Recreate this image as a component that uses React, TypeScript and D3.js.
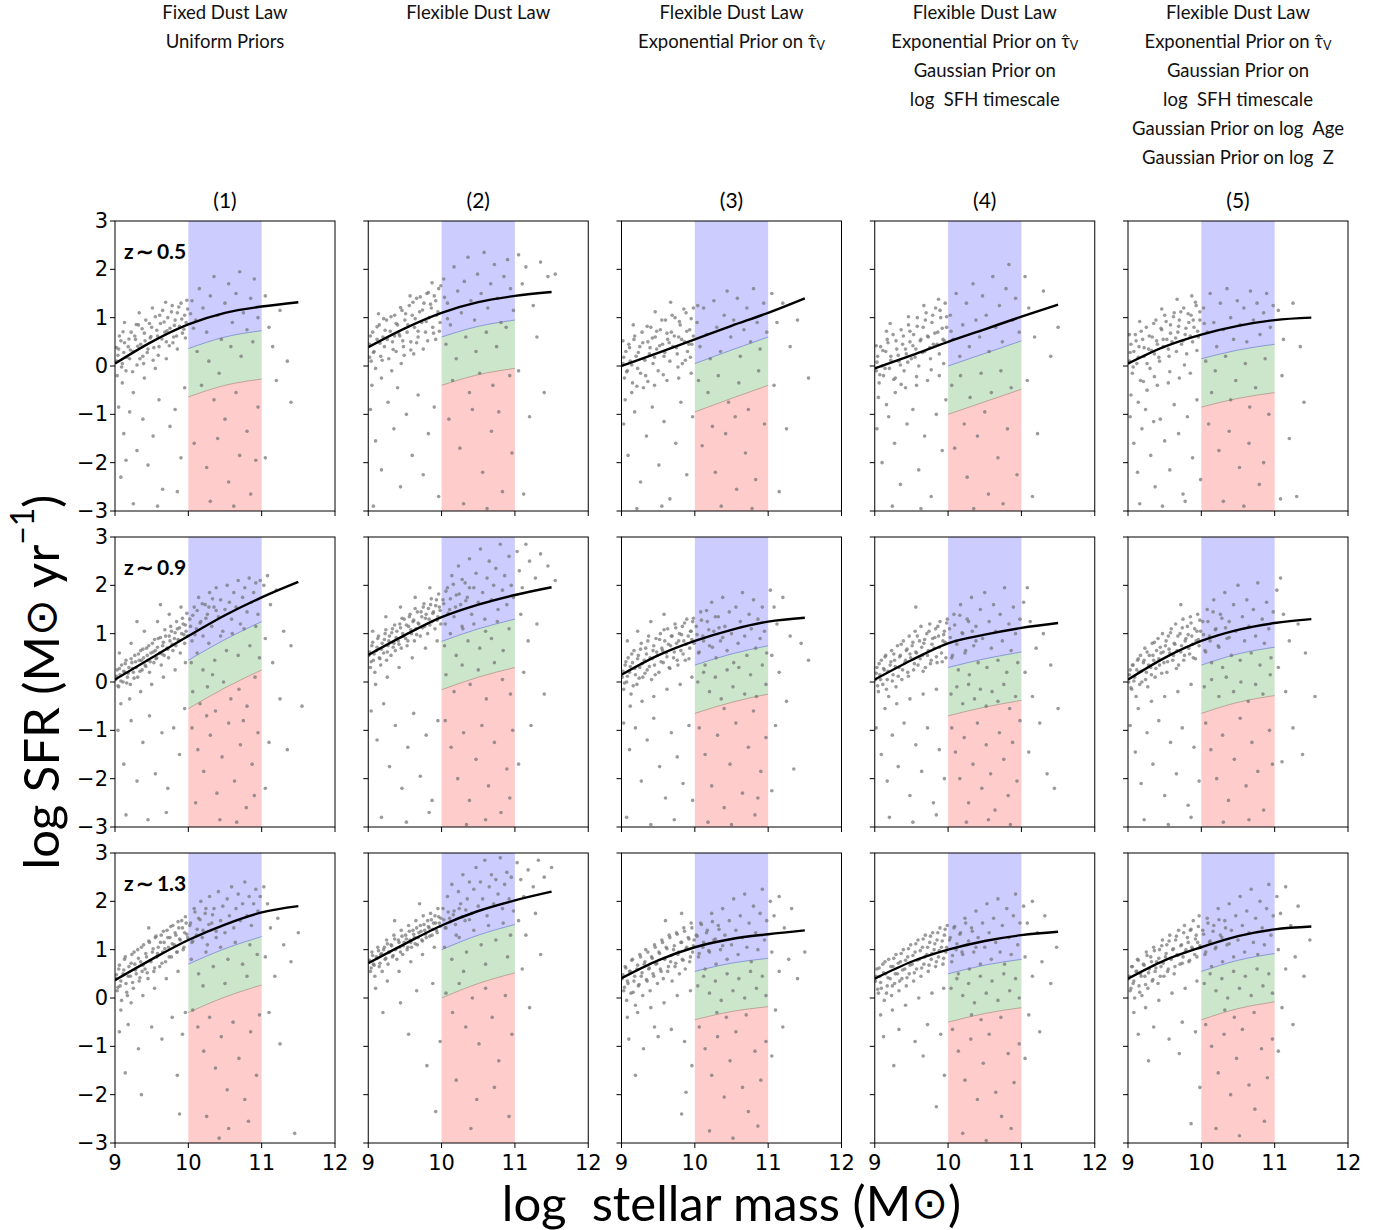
import React from "react";
import * as d3 from "d3";

// ---------------- DATA ----------------
const HEADERS: string[][] = [
  ["Fixed Dust Law", "Uniform Priors"],
  ["Flexible Dust Law"],
  ["Flexible Dust Law", "Exponential Prior on τ̂|V"],
  ["Flexible Dust Law", "Exponential Prior on τ̂|V", "Gaussian Prior on", "log\u00A0\u00A0SFH timescale"],
  ["Flexible Dust Law", "Exponential Prior on τ̂|V", "Gaussian Prior on", "log\u00A0\u00A0SFH timescale", "Gaussian Prior on log\u00A0\u00A0Age", "Gaussian Prior on log\u00A0\u00A0Z"],
];
const PANEL_IDS = ["(1)", "(2)", "(3)", "(4)", "(5)"];
const Z_LABELS = ["z\u2009∼\u20090.5", "z\u2009∼\u20090.9", "z\u2009∼\u20091.3"];
const X_TICKS = [9, 10, 11, 12];
const Y_TICKS = [-3, -2, -1, 0, 1, 2, 3];
const BAND_X = [10, 11];

// best-fit curve sampled at these masses
const CURVE_X = [9, 9.5, 10, 10.5, 11, 11.5];
const CURVE_ROW1 = [
  [0.05, 0.5, 0.86, 1.1, 1.23, 1.32],
  [0.39, 0.78, 1.1, 1.32, 1.45, 1.53],
  [0.0, 0.27, 0.55, 0.83, 1.1, 1.4],
  [-0.05, 0.22, 0.5, 0.76, 1.02, 1.27],
  [0.05, 0.4, 0.65, 0.83, 0.95, 1.0],
];
const CURVE_ROW2 = [
  [0.05, 0.5, 0.95, 1.38, 1.75, 2.07],
  [0.56, 0.97, 1.34, 1.6, 1.8, 1.96],
  [0.15, 0.55, 0.85, 1.08, 1.25, 1.33],
  [0.05, 0.45, 0.8, 0.98, 1.12, 1.22],
  [0.05, 0.5, 0.85, 1.08, 1.22, 1.3],
];
const CURVE_ROW3 = [
  [0.37, 0.8, 1.2, 1.52, 1.77, 1.9],
  [0.72, 1.12, 1.5, 1.8, 2.02, 2.2],
  [0.41, 0.78, 1.05, 1.22, 1.32, 1.4],
  [0.4, 0.75, 1.0, 1.18, 1.3, 1.37],
  [0.4, 0.78, 1.05, 1.28, 1.42, 1.48],
];
// band edges relative to the curve (dex)
const BAND_OFFSETS = [-0.5, -1.5];

// scatter points: flat [mass, sfr, mass, sfr, ...]
const PTS_R1C1 = [
9.02,0.10,9.05,0.35,9.03,-0.20,9.08,0.52,9.10,0.05,9.12,0.28,9.06,0.62,9.15,-0.10,9.18,0.40,9.20,0.15,
9.22,0.70,9.25,0.30,9.28,0.55,9.30,0.02,9.32,0.85,9.35,0.45,9.38,0.20,9.40,0.68,9.42,0.95,9.45,0.35,
9.48,0.58,9.50,0.80,9.52,0.12,9.55,1.02,9.58,0.62,9.60,0.40,9.62,0.88,9.65,1.15,9.68,0.70,9.70,0.50,
9.72,1.00,9.75,0.78,9.78,1.25,9.80,0.60,9.82,0.95,9.85,1.10,9.88,0.82,9.90,1.30,9.92,0.68,9.95,1.05,
9.97,0.90,9.99,1.18,9.10,-0.35,9.25,-0.55,9.40,-0.25,9.55,-0.05,9.70,0.15,9.85,0.35,9.13,0.90,9.33,1.10,
9.05,-0.85,9.12,-1.40,9.20,-0.95,9.30,-1.75,9.38,-1.10,9.45,-2.05,9.52,-1.45,9.60,-0.70,9.65,-2.55,9.75,-1.25,
9.82,-0.90,9.90,-1.90,9.95,-0.45,9.08,-2.30,9.25,-2.85,9.58,-2.90,9.85,-2.60,9.15,-1.95,
10.05,1.35,10.10,0.95,10.15,1.60,10.20,1.20,10.25,0.70,10.30,1.45,10.35,1.85,10.40,1.05,10.45,0.55,10.50,1.30,
10.55,1.70,10.60,0.90,10.65,1.50,10.70,1.95,10.75,1.10,10.80,0.75,10.85,1.40,10.90,1.80,10.95,1.00,10.12,0.30,
10.28,0.10,10.42,-0.15,10.58,0.40,10.72,0.20,10.88,0.50,10.18,-0.40,10.35,-0.70,10.50,-1.10,10.65,-0.55,10.80,-1.35,
10.95,-0.85,10.08,-1.60,10.25,-2.10,10.40,-1.50,10.55,-2.40,10.70,-1.85,10.85,-2.65,10.30,-2.80,10.62,-2.90,10.92,-1.95,
11.05,1.45,11.10,0.80,11.20,-0.30,11.35,0.10,11.25,1.15,11.40,-0.75,11.05,-1.90,11.15,0.40,
];
const CORE_R1C1 = [
9.04,0.22,9.09,-0.02,9.13,0.48,9.16,0.18,9.21,0.33,9.24,-0.12,9.27,0.62,9.31,0.41,9.34,0.15,9.37,0.77,
9.41,0.52,9.44,0.28,9.47,0.88,9.49,0.61,9.53,0.38,9.57,0.74,9.61,1.05,9.64,0.56,9.67,0.91,9.71,0.73,
9.74,0.42,9.77,1.12,9.81,0.84,9.84,0.62,9.87,1.22,9.91,0.97,9.94,0.76,9.98,1.36,10.03,1.08,10.07,0.78,
9.02,0.38,9.19,0.56,9.29,0.86,9.39,0.05,9.59,0.22,9.79,0.48,9.96,0.58,9.11,0.71,9.51,1.20,9.69,1.32,
];
const PTS_R1C2 = [
9.02,0.45,9.04,0.10,9.06,0.70,9.08,0.30,9.10,-0.05,9.12,0.55,9.15,0.85,9.17,0.20,9.20,0.60,9.22,0.40,
9.25,0.95,9.28,0.15,9.30,0.72,9.33,0.50,9.36,1.05,9.38,0.30,9.40,0.85,9.43,0.62,9.46,1.15,9.48,0.40,
9.50,0.95,9.53,0.70,9.56,1.25,9.58,0.50,9.60,1.05,9.63,0.80,9.66,1.40,9.68,0.60,9.70,1.12,9.73,0.90,
9.76,1.30,9.78,0.70,9.80,1.50,9.83,1.00,9.86,1.20,9.88,0.80,9.90,1.45,9.93,1.05,9.96,1.60,9.98,0.90,
9.05,-0.40,9.18,-0.25,9.32,-0.10,9.45,0.05,9.62,0.25,9.75,0.35,9.92,0.55,
9.03,-0.90,9.10,-1.55,9.18,-2.15,9.27,-0.75,9.35,-1.30,9.44,-2.50,9.52,-1.00,9.60,-1.85,9.68,-0.60,9.75,-2.25,
9.82,-1.40,9.90,-0.85,9.96,-2.70,9.07,-2.90,9.40,-0.45,
10.03,1.80,10.08,1.30,10.12,0.85,10.17,2.05,10.22,1.55,10.27,1.10,10.31,1.75,10.36,2.25,10.40,1.35,10.45,0.95,
10.49,1.90,10.54,1.50,10.58,2.35,10.63,1.20,10.67,1.70,10.72,2.10,10.76,1.40,10.81,0.90,10.85,1.85,10.90,2.20,
10.94,1.60,10.98,1.15,10.06,0.45,10.20,0.15,10.33,0.60,10.47,0.30,10.61,0.70,10.75,0.40,10.88,0.80,10.15,-0.30,
10.38,-0.55,10.52,-0.15,10.70,-0.40,10.93,-0.20,10.10,-1.10,10.25,-1.70,10.42,-0.90,10.56,-2.20,10.68,-1.35,10.83,-2.60,
10.96,-1.80,10.30,-2.85,10.62,-2.95,10.78,-0.95,
11.05,2.30,11.10,1.70,11.15,2.05,11.25,1.25,11.35,2.15,11.45,1.85,11.30,0.60,11.40,-0.55,11.20,-1.05,11.05,-0.10,
11.55,1.90,11.12,-2.65,
];
const CORE_R1C2 = [
9.03,0.62,9.07,0.28,9.12,0.81,9.16,0.47,9.19,0.12,9.23,0.74,9.26,0.55,9.31,1.02,9.34,0.34,9.38,0.88,
9.42,0.66,9.44,1.21,9.47,0.52,9.51,1.08,9.54,0.85,9.58,0.33,9.61,1.32,9.64,0.98,9.68,0.72,9.71,1.43,
9.74,1.16,9.79,0.92,9.82,1.52,9.85,1.28,9.89,0.68,9.92,1.35,9.95,1.12,9.99,1.66,10.04,1.42,10.08,0.98,
9.02,0.18,9.21,0.98,9.36,0.62,9.49,0.22,9.57,1.45,9.66,0.48,9.81,0.52,9.97,0.72,9.14,1.08,9.87,1.72,
];
const PTS_R1C3 = [
9.02,0.05,9.04,-0.25,9.06,0.30,9.08,-0.10,9.10,0.45,9.12,0.10,9.15,-0.35,9.17,0.55,9.20,0.20,9.22,-0.05,
9.25,0.40,9.28,0.70,9.30,0.15,9.33,-0.20,9.36,0.50,9.38,0.25,9.40,0.80,9.43,0.05,9.46,0.60,9.48,0.35,
9.50,-0.10,9.53,0.75,9.56,0.45,9.58,0.20,9.60,0.95,9.63,0.55,9.66,0.10,9.68,0.70,9.70,0.40,9.73,1.00,
9.76,0.25,9.78,0.60,9.80,0.85,9.83,0.05,9.86,0.50,9.88,1.10,9.90,0.30,9.93,0.75,9.96,0.45,9.98,1.20,
9.05,-0.70,9.14,-0.55,9.30,-0.45,9.45,-0.40,9.62,-0.30,9.78,-0.25,9.95,-0.15,
9.03,-1.20,9.09,-1.85,9.18,-0.95,9.26,-2.40,9.34,-1.45,9.42,-0.85,9.51,-2.05,9.58,-1.15,9.66,-2.75,9.74,-1.60,
9.81,-0.75,9.89,-2.25,9.97,-1.05,9.21,-2.95,9.55,-2.90,
10.03,0.90,10.07,0.40,10.12,1.20,10.16,0.65,10.21,0.15,10.26,1.35,10.30,0.80,10.35,0.30,10.40,1.05,10.44,1.55,
10.49,0.60,10.53,0.95,10.58,1.40,10.62,0.20,10.67,0.75,10.71,1.20,10.76,0.50,10.80,1.60,10.85,0.90,10.89,0.35,
10.94,1.30,10.98,0.70,10.05,-0.30,10.18,-0.55,10.32,-0.20,10.46,-0.75,10.60,-0.35,10.73,-0.90,10.87,-0.10,10.24,-1.25,
10.55,-1.05,10.10,-1.65,10.28,-2.20,10.42,-1.40,10.57,-2.55,10.69,-1.80,10.83,-2.35,10.95,-1.20,10.36,-2.90,10.78,-2.95,
11.05,1.50,11.12,0.90,11.20,1.30,11.30,0.40,11.08,-0.40,11.40,0.95,11.25,-1.30,11.55,-0.25,11.15,-2.60,
];
const CORE_R1C3 = [
9.03,0.18,9.07,-0.12,9.11,0.38,9.14,0.02,9.18,0.62,9.23,0.28,9.26,-0.15,9.29,0.48,9.32,0.12,9.35,0.82,
9.39,0.38,9.42,0.58,9.45,0.18,9.48,0.72,9.52,0.42,9.55,0.95,9.59,0.28,9.62,0.68,9.65,0.48,9.69,1.05,
9.72,0.62,9.75,0.38,9.79,0.92,9.82,0.55,9.85,1.18,9.89,0.72,9.92,0.45,9.95,0.98,9.98,0.62,10.04,1.25,
9.02,0.52,9.16,0.85,9.36,-0.32,9.57,-0.18,9.77,-0.02,9.94,0.18,9.46,1.12,9.67,1.32,9.21,-0.42,9.87,0.12,
];
const PTS_R1C4 = [
9.02,-0.10,9.04,0.20,9.06,-0.35,9.08,0.40,9.10,0.00,9.12,-0.20,9.15,0.30,9.17,0.55,9.20,-0.05,9.22,0.20,
9.25,0.65,9.28,-0.25,9.30,0.35,9.33,0.10,9.36,0.75,9.38,0.45,9.40,-0.10,9.43,0.25,9.46,0.85,9.48,0.50,
9.50,0.15,9.53,0.65,9.56,0.35,9.58,1.00,9.60,0.00,9.63,0.55,9.66,0.80,9.68,0.30,9.70,1.10,9.73,0.60,
9.76,0.15,9.78,0.90,9.80,0.45,9.83,1.20,9.86,0.70,9.88,0.25,9.90,1.00,9.93,0.55,9.96,1.30,9.98,0.80,
9.05,-0.65,9.16,-0.80,9.28,-0.55,9.42,-0.45,9.57,-0.40,9.72,-0.30,9.88,-0.20,
9.03,-1.30,9.10,-2.00,9.19,-1.05,9.27,-1.60,9.35,-2.45,9.44,-1.20,9.52,-0.90,9.60,-2.15,9.68,-1.45,9.77,-2.70,
9.84,-1.00,9.92,-1.75,9.97,-0.70,9.24,-2.90,9.63,-2.95,
10.03,1.05,10.07,0.55,10.11,1.50,10.16,0.20,10.20,0.85,10.25,1.30,10.29,0.40,10.34,1.70,10.38,0.95,10.43,0.60,
10.47,1.45,10.52,1.05,10.56,0.30,10.61,1.85,10.65,0.80,10.70,1.25,10.74,0.50,10.79,1.60,10.83,2.10,10.88,0.95,
10.92,1.40,10.97,0.70,10.05,-0.40,10.17,-0.20,10.30,-0.65,10.45,-0.15,10.59,-0.55,10.72,-0.10,10.86,-0.45,10.22,-1.20,
10.50,-0.95,10.09,-1.70,10.26,-2.30,10.40,-1.45,10.55,-2.65,10.68,-1.90,10.81,-1.30,10.94,-2.25,10.35,-2.95,10.75,-2.85,
11.05,1.85,11.10,1.20,11.18,0.60,11.30,1.55,11.08,-0.30,11.40,0.20,11.22,-1.40,11.50,0.80,11.15,-2.70,
];
const CORE_R1C4 = [
9.03,0.08,9.07,-0.18,9.11,0.32,9.14,-0.05,9.18,0.48,9.22,0.12,9.26,-0.28,9.29,0.52,9.32,0.22,9.35,0.02,
9.39,0.62,9.42,0.35,9.45,0.08,9.48,0.72,9.52,0.42,9.55,0.18,9.58,0.82,9.62,0.52,9.65,0.28,9.69,0.95,
9.72,0.62,9.75,0.38,9.79,1.05,9.82,0.68,9.85,0.45,9.89,1.15,9.92,0.78,9.95,0.52,9.98,1.02,10.04,0.72,
9.02,0.42,9.16,0.72,9.36,-0.38,9.57,-0.22,9.77,-0.08,9.94,0.05,9.46,1.02,9.67,1.25,9.21,0.88,9.87,1.38,
];
const PTS_R1C5 = [
9.02,0.10,9.04,0.45,9.06,-0.15,9.08,0.30,9.10,0.65,9.12,0.05,9.15,0.40,9.17,-0.30,9.20,0.55,9.22,0.20,
9.25,0.80,9.28,0.35,9.30,-0.05,9.33,0.60,9.36,0.25,9.38,0.95,9.40,0.45,9.43,0.10,9.46,0.75,9.48,0.40,
9.50,1.05,9.53,0.55,9.56,0.20,9.58,0.85,9.60,0.50,9.63,1.10,9.66,0.30,9.68,0.70,9.70,0.95,9.73,0.45,
9.76,1.20,9.78,0.65,9.80,0.25,9.83,0.90,9.86,1.05,9.88,0.50,9.90,0.80,9.93,1.25,9.96,0.60,9.98,0.95,
9.04,-0.60,9.14,-0.75,9.26,-0.50,9.40,-0.40,9.55,-0.35,9.70,-0.25,9.85,-0.15,
9.03,-1.05,9.08,-1.60,9.13,-2.20,9.19,-1.30,9.24,-0.90,9.31,-1.85,9.37,-2.50,9.44,-1.10,9.50,-1.55,9.57,-2.15,
9.63,-0.80,9.69,-1.40,9.75,-2.65,9.81,-1.05,9.88,-1.90,9.94,-0.70,9.99,-2.35,9.16,-2.85,9.47,-2.90,9.78,-2.80,9.35,-1.15,
10.03,1.20,10.08,0.70,10.12,1.50,10.17,0.90,10.21,0.40,10.26,1.30,10.30,0.75,10.35,1.60,10.40,1.00,10.44,0.55,
10.49,1.35,10.53,0.85,10.58,1.20,10.62,0.50,10.67,1.55,10.71,0.95,10.76,1.30,10.80,0.65,10.85,1.10,10.89,1.50,
10.94,0.80,10.98,1.25,10.06,0.10,10.19,-0.10,10.33,0.20,10.47,-0.30,10.60,0.05,10.74,-0.45,10.87,0.15,10.14,-0.55,
10.40,-0.70,10.66,-0.85,10.10,-1.20,10.24,-1.75,10.38,-1.35,10.52,-2.10,10.65,-1.60,10.79,-2.45,10.92,-1.00,10.30,-2.80,
10.58,-2.90,10.85,-2.00,
11.05,1.15,11.12,0.55,11.25,1.30,11.35,0.40,11.10,-0.20,11.40,-0.75,11.20,-1.50,11.08,-2.75,11.30,-2.70,
];
const CORE_R1C5 = [
9.03,0.28,9.07,-0.02,9.11,0.52,9.14,0.18,9.18,0.72,9.22,0.38,9.26,0.05,9.29,0.62,9.32,0.32,9.35,0.88,
9.39,0.52,9.42,0.18,9.45,0.78,9.48,0.55,9.52,0.92,9.55,0.35,9.58,0.68,9.62,1.02,9.65,0.58,9.69,0.82,
9.72,1.12,9.75,0.52,9.79,0.78,9.82,1.08,9.85,0.62,9.89,0.95,9.92,1.32,9.95,0.72,9.98,1.12,10.04,0.88,
9.02,0.65,9.16,0.92,9.36,-0.22,9.57,-0.12,9.77,0.02,9.94,0.32,9.46,1.18,9.67,1.38,9.21,-0.32,9.87,1.45,
];
const PTS_R2C1 = [
9.01,0.05,9.03,0.25,9.05,-0.10,9.07,0.15,9.09,0.35,9.11,0.00,9.13,0.20,9.15,0.45,9.17,0.10,9.19,0.30,
9.21,-0.05,9.23,0.40,9.25,0.20,9.27,0.55,9.29,0.30,9.31,0.10,9.33,0.45,9.35,0.65,9.37,0.25,9.39,0.50,
9.41,0.35,9.43,0.70,9.45,0.45,9.47,0.20,9.49,0.60,9.51,0.80,9.53,0.40,9.55,0.65,9.57,0.50,9.59,0.90,
9.61,0.60,9.63,0.35,9.65,0.75,9.67,0.55,9.69,0.95,9.71,0.70,9.73,0.50,9.75,0.85,9.77,1.05,9.79,0.65,
9.81,0.90,9.83,0.75,9.85,1.10,9.87,0.85,9.89,0.60,9.91,1.00,9.93,1.20,9.95,0.80,9.97,1.05,9.99,0.95,
9.06,0.60,9.22,0.80,9.40,1.05,9.58,1.25,9.74,1.40,9.90,1.55,9.30,1.25,9.62,1.60,
9.08,-0.45,9.20,-0.35,9.35,-0.20,9.50,-0.05,9.66,0.10,9.82,0.25,9.96,0.40,
9.04,-1.00,9.12,-1.70,9.22,-0.80,9.30,-2.05,9.38,-1.25,9.47,-0.70,9.55,-1.90,9.64,-1.05,9.72,-2.20,9.80,-0.95,
9.88,-1.50,9.95,-0.55,9.15,-2.75,9.45,-2.85,9.70,-2.70,
10.02,1.30,10.05,0.85,10.08,1.55,10.11,1.10,10.14,1.75,10.17,1.25,10.20,0.95,10.23,1.60,10.26,1.40,10.29,1.85,
10.32,1.15,10.35,1.55,10.38,1.95,10.41,1.35,10.44,1.70,10.47,1.05,10.50,1.50,10.53,2.00,10.56,1.65,10.59,1.30,
10.62,1.85,10.65,1.55,10.68,2.10,10.71,1.20,10.74,1.75,10.77,1.95,10.80,1.45,10.83,2.15,10.86,1.65,10.89,1.85,
10.92,2.05,10.95,1.40,10.98,2.10,
10.04,0.40,10.12,0.60,10.20,0.25,10.28,0.80,10.36,0.45,10.44,0.95,10.52,0.65,10.60,1.00,10.68,0.55,10.76,1.10,
10.84,0.75,10.92,1.15,10.97,0.50,10.06,-0.20,10.16,-0.45,10.26,-0.10,10.37,-0.60,10.48,0.00,10.58,-0.35,10.69,-0.15,
10.80,-0.50,10.91,0.10,10.33,0.15,10.05,-0.95,10.13,-1.40,10.21,-1.85,10.30,-1.10,10.39,-2.30,10.46,-1.55,10.55,-0.85,
10.63,-2.05,10.71,-1.30,10.79,-2.60,10.87,-1.70,10.95,-1.05,10.10,-2.50,10.43,-2.85,10.66,-2.90,10.90,-2.35,10.25,-0.70,
10.75,-0.80,
11.03,2.00,11.08,2.20,11.12,1.60,11.20,1.90,11.05,0.90,11.15,0.40,11.30,1.05,11.40,0.75,11.25,-0.35,11.10,-1.25,
11.35,-1.40,11.55,-0.50,11.05,-2.20,
];
const CORE_R2C1 = [
9.02,0.12,9.04,-0.08,9.06,0.28,9.08,0.02,9.12,0.22,9.14,0.38,9.16,-0.02,9.18,0.18,9.22,0.48,9.24,0.28,
9.26,0.08,9.28,0.42,9.32,0.58,9.34,0.22,9.36,0.45,9.38,0.68,9.42,0.32,9.44,0.55,9.46,0.75,9.48,0.42,
9.52,0.62,9.54,0.88,9.56,0.48,9.58,0.72,9.62,0.92,9.64,0.58,9.66,0.82,9.68,1.08,9.72,0.68,9.74,0.95,
9.76,1.15,9.78,0.78,9.82,1.02,9.84,1.25,9.86,0.88,9.88,1.12,9.92,1.32,9.94,0.98,9.96,1.18,9.98,1.42,
10.03,1.15,10.06,1.38,10.09,0.98,10.12,1.48,10.16,1.22,10.19,1.62,10.24,1.32,10.28,1.55,10.33,1.72,10.38,1.48,
];
const PTS_R2C2 = [
9.01,0.55,9.03,0.30,9.05,0.75,9.07,0.45,9.09,0.20,9.11,0.65,9.13,0.90,9.15,0.50,9.17,0.35,9.19,0.80,
9.21,0.60,9.23,1.00,9.25,0.45,9.27,0.75,9.29,0.95,9.31,0.55,9.33,1.10,9.35,0.80,9.37,0.65,9.39,1.05,
9.41,0.85,9.43,1.20,9.45,0.70,9.47,1.00,9.49,1.30,9.51,0.90,9.53,0.75,9.55,1.15,9.57,1.40,9.59,1.00,
9.61,1.25,9.63,0.85,9.65,1.10,9.67,1.45,9.69,1.20,9.71,0.95,9.73,1.35,9.75,1.55,9.77,1.15,9.79,1.40,
9.81,1.00,9.83,1.30,9.85,1.60,9.87,1.25,9.89,1.45,9.91,1.10,9.93,1.70,9.95,1.35,9.97,1.55,9.99,1.20,
9.06,1.05,9.24,1.35,9.44,1.55,9.64,1.75,9.84,1.95,9.10,-0.05,9.26,0.10,9.42,0.30,9.60,0.50,9.78,0.70,9.94,0.85,
9.04,-0.60,9.12,-1.20,9.21,-0.45,9.29,-1.75,9.37,-0.90,9.46,-2.20,9.54,-1.35,9.62,-0.65,9.71,-1.95,9.79,-1.10,
9.87,-2.45,9.95,-0.80,9.18,-2.80,9.52,-2.90,9.83,-2.70,
10.02,1.70,10.05,1.20,10.08,1.95,10.11,1.50,10.14,2.20,10.17,1.35,10.20,1.80,10.23,2.40,10.26,1.60,10.29,1.10,
10.32,2.05,10.35,1.75,10.38,2.55,10.41,1.40,10.44,1.95,10.47,2.25,10.50,1.65,10.53,2.75,10.56,1.85,10.59,1.30,
10.62,2.15,10.65,2.50,10.68,1.70,10.71,2.00,10.74,2.35,10.77,1.50,10.80,2.85,10.83,1.90,10.86,2.20,10.89,1.60,
10.92,2.60,10.95,2.00,10.98,1.75,
10.04,0.75,10.12,1.00,10.20,0.55,10.28,1.15,10.36,0.85,10.44,1.20,10.52,0.70,10.60,1.05,10.68,0.90,10.76,1.25,
10.84,0.65,10.92,1.10,10.06,0.15,10.17,-0.20,10.28,0.35,10.39,-0.05,10.50,0.25,10.61,-0.35,10.72,0.40,10.83,0.05,
10.94,-0.25,10.05,-0.80,10.13,-1.35,10.22,-2.00,10.30,-1.05,10.38,-2.45,10.47,-1.60,10.55,-0.90,10.64,-2.15,10.72,-1.25,
10.81,-2.70,10.89,-1.80,10.97,-1.00,10.34,-2.95,10.60,-2.85,10.93,-2.40,
11.03,2.70,11.06,2.30,11.10,1.95,11.15,2.85,11.20,2.50,11.28,2.15,11.35,2.65,11.45,2.40,11.08,1.40,11.18,0.85,
11.30,1.20,11.12,0.20,11.40,-0.25,11.22,-0.90,11.05,-1.70,11.55,2.10,
];
const CORE_R2C2 = [
9.02,0.62,9.04,0.42,9.06,0.82,9.08,0.58,9.12,0.72,9.14,0.95,9.16,0.48,9.18,0.68,9.22,0.88,9.24,1.08,
9.26,0.62,9.28,0.85,9.32,1.02,9.34,0.72,9.36,1.18,9.38,0.92,9.42,0.78,9.44,1.12,9.46,1.32,9.48,0.95,
9.52,1.18,9.54,0.85,9.56,1.35,9.58,1.08,9.62,1.28,9.64,1.52,9.66,0.98,9.68,1.22,9.72,1.45,9.74,1.12,
9.76,1.62,9.78,1.32,9.82,1.52,9.84,1.18,9.86,1.72,9.88,1.42,9.92,1.58,9.94,1.28,9.96,1.82,9.98,1.48,
10.03,1.62,10.06,1.88,10.09,1.42,10.12,1.72,10.16,2.02,10.19,1.55,10.24,1.82,10.28,2.12,10.33,1.68,10.38,1.95,
];
const PTS_R2C3 = [
9.01,0.10,9.03,-0.15,9.05,0.35,9.07,0.00,9.09,0.50,9.11,0.20,9.13,-0.25,9.15,0.40,9.17,0.65,9.19,0.15,
9.21,-0.05,9.23,0.55,9.25,0.30,9.27,0.80,9.29,0.10,9.31,0.45,9.33,0.70,9.35,0.25,9.37,0.95,9.39,0.50,
9.41,0.05,9.43,0.65,9.45,0.35,9.47,0.90,9.49,0.55,9.51,0.20,9.53,1.00,9.55,0.70,9.57,0.40,9.59,0.85,
9.61,0.60,9.63,1.10,9.65,0.30,9.67,0.75,9.69,0.95,9.71,0.50,9.73,1.20,9.75,0.80,9.77,0.35,9.79,1.00,
9.81,0.65,9.83,1.15,9.85,0.85,9.87,0.45,9.89,1.30,9.91,0.95,9.93,0.70,9.95,1.05,9.97,1.25,9.99,0.80,
9.08,0.85,9.22,1.05,9.40,1.25,9.58,1.40,9.12,-0.50,9.28,-0.40,9.44,-0.30,9.62,-0.15,9.80,-0.05,9.96,0.10,
9.03,-0.85,9.11,-1.40,9.19,-0.95,9.27,-2.05,9.35,-1.20,9.44,-0.75,9.52,-1.75,9.60,-2.40,9.68,-1.05,9.76,-1.55,
9.84,-2.10,9.92,-0.90,9.07,-2.80,9.40,-2.95,9.72,-2.85,9.97,-2.45,
10.02,1.15,10.05,0.60,10.08,1.45,10.11,0.95,10.14,0.35,10.17,1.25,10.20,0.75,10.23,1.65,10.26,1.05,10.29,0.50,
10.32,1.35,10.35,0.85,10.38,1.75,10.41,1.15,10.44,0.65,10.47,1.45,10.50,1.00,10.53,0.40,10.56,1.55,10.59,0.80,
10.62,1.25,10.65,1.85,10.68,0.95,10.71,0.55,10.74,1.40,10.77,1.10,10.80,1.70,10.83,0.70,10.86,1.30,10.89,0.90,
10.92,1.55,10.95,1.05,10.98,0.60,
10.04,0.00,10.12,0.20,10.20,-0.20,10.28,0.10,10.36,-0.35,10.44,0.25,10.52,-0.10,10.60,0.30,10.68,-0.25,10.76,0.15,
10.84,-0.30,10.92,0.35,10.97,-0.05,10.40,-0.55,10.80,-0.60,10.06,-0.95,10.14,-1.50,10.23,-2.15,10.31,-1.10,10.40,-2.60,
10.48,-1.70,10.56,-0.85,10.65,-2.30,10.73,-1.35,10.82,-2.75,10.90,-1.85,10.97,-1.15,10.18,-2.90,10.50,-2.95,10.86,-2.40,
11.03,1.90,11.08,1.55,11.12,1.20,11.20,1.75,11.30,0.95,11.05,0.55,11.15,0.20,11.45,0.80,11.25,-0.40,11.10,-0.90,
11.35,-1.80,11.05,-2.25,11.55,0.45,
];
const CORE_R2C3 = [
9.02,0.22,9.04,-0.02,9.06,0.42,9.08,0.12,9.12,0.32,9.14,0.58,9.16,-0.08,9.18,0.28,9.22,0.48,9.24,0.08,
9.26,0.68,9.28,0.38,9.32,0.18,9.34,0.58,9.36,0.85,9.38,0.32,9.42,0.48,9.44,0.75,9.46,0.15,9.48,0.62,
9.52,0.88,9.54,0.42,9.56,0.65,9.58,1.08,9.62,0.52,9.64,0.78,9.66,0.28,9.68,0.95,9.72,0.62,9.74,1.12,
9.76,0.45,9.78,0.85,9.82,0.98,9.84,0.58,9.86,1.22,9.88,0.78,9.92,0.48,9.94,1.05,9.96,0.88,9.98,1.32,
10.03,0.98,10.06,0.62,10.09,1.28,10.12,0.85,10.16,1.48,10.19,1.08,10.24,0.72,10.28,1.35,10.33,1.12,10.38,0.92,
];
const PTS_R2C4 = [
9.01,0.05,9.03,0.30,9.05,-0.20,9.07,0.15,9.09,0.45,9.11,-0.05,9.13,0.25,9.15,0.55,9.17,0.05,9.19,-0.30,
9.21,0.35,9.23,0.65,9.25,0.15,9.27,0.45,9.29,-0.10,9.31,0.75,9.33,0.30,9.35,0.55,9.37,0.05,9.39,0.85,
9.41,0.40,9.43,0.65,9.45,0.20,9.47,0.95,9.49,0.50,9.51,0.75,9.53,0.25,9.55,1.05,9.57,0.60,9.59,0.35,
9.61,0.85,9.63,1.15,9.65,0.55,9.67,0.80,9.69,0.30,9.71,1.00,9.73,0.65,9.75,1.20,9.77,0.45,9.79,0.90,
9.81,0.70,9.83,1.10,9.85,0.40,9.87,0.95,9.89,1.25,9.91,0.60,9.93,0.85,9.95,1.05,9.97,0.50,9.99,1.30,
9.14,-0.55,9.30,-0.45,9.48,-0.35,9.66,-0.25,9.84,-0.15,9.56,1.55,
9.02,-0.95,9.09,-1.50,9.17,-2.05,9.24,-1.10,9.32,-1.75,9.40,-0.85,9.48,-2.35,9.56,-1.30,9.64,-1.85,9.72,-0.95,
9.80,-2.50,9.88,-1.40,9.95,-2.00,9.20,-2.80,9.52,-2.90,9.84,-2.75,
10.02,1.10,10.05,0.50,10.08,1.40,10.11,0.85,10.14,0.25,10.17,1.60,10.20,1.00,10.23,0.60,10.26,1.30,10.29,0.15,
10.32,1.75,10.35,0.75,10.38,1.15,10.41,0.40,10.44,1.50,10.47,0.90,10.50,1.85,10.53,0.30,10.56,1.25,10.59,0.70,
10.62,1.60,10.65,1.05,10.68,0.45,10.71,1.40,10.74,0.85,10.77,1.95,10.80,0.20,10.83,1.20,10.86,0.65,10.89,1.55,
10.92,1.00,10.95,0.40,10.98,1.30,
10.04,-0.25,10.12,-0.10,10.20,-0.45,10.28,-0.05,10.36,-0.35,10.44,-0.15,10.52,-0.50,10.60,-0.20,10.68,-0.40,10.76,-0.05,
10.84,-0.55,10.92,-0.30,10.05,-0.95,10.10,-1.45,10.16,-2.00,10.22,-1.15,10.28,-2.50,10.34,-1.70,10.40,-0.85,10.46,-2.20,
10.52,-1.30,10.58,-1.90,10.64,-2.65,10.70,-1.05,10.76,-1.60,10.82,-2.35,10.88,-1.25,10.94,-2.05,10.98,-0.80,10.25,-2.90,
10.55,-2.85,10.85,-2.95,
11.03,1.65,11.08,1.95,11.12,1.25,11.20,0.70,11.30,1.00,11.05,0.20,11.15,-0.30,11.40,0.35,11.25,-0.85,11.10,-1.45,
11.35,-1.90,11.50,-0.55,11.45,-2.20,
];
const CORE_R2C4 = [
9.02,0.18,9.04,-0.08,9.06,0.38,9.08,0.05,9.12,0.28,9.14,0.52,9.16,-0.15,9.18,0.22,9.22,0.42,9.24,0.02,
9.26,0.58,9.28,0.32,9.32,0.12,9.34,0.52,9.36,0.78,9.38,0.25,9.42,0.45,9.44,0.68,9.46,0.12,9.48,0.58,
9.52,0.82,9.54,0.38,9.56,0.62,9.58,0.95,9.62,0.48,9.64,0.72,9.66,0.22,9.68,0.88,9.72,0.55,9.74,1.05,
9.76,0.38,9.78,0.78,9.82,0.92,9.84,0.52,9.86,1.15,9.88,0.72,9.92,0.42,9.94,0.98,9.96,0.82,9.98,1.22,
10.03,0.92,10.06,0.55,10.09,1.18,10.12,0.78,10.16,1.38,10.19,1.02,10.24,0.65,10.28,1.25,10.33,1.05,10.38,0.85,
];
const PTS_R2C5 = [
9.01,0.00,9.03,0.25,9.05,-0.15,9.07,0.35,9.09,0.10,9.11,-0.30,9.13,0.45,9.15,0.20,9.17,0.55,9.19,0.00,
9.21,0.40,9.23,0.70,9.25,0.20,9.27,-0.10,9.29,0.55,9.31,0.30,9.33,0.80,9.35,0.45,9.37,0.10,9.39,0.65,
9.41,0.90,9.43,0.35,9.45,0.60,9.47,1.00,9.49,0.40,9.51,0.75,9.53,0.20,9.55,0.95,9.57,0.60,9.59,1.10,
9.61,0.45,9.63,0.80,9.65,1.20,9.67,0.65,9.69,0.35,9.71,1.00,9.73,0.75,9.75,1.30,9.77,0.55,9.79,0.90,
9.81,1.15,9.83,0.70,9.85,1.35,9.87,0.95,9.89,0.50,9.91,1.10,9.93,0.85,9.95,1.40,9.97,0.75,9.99,1.05,
9.14,-0.55,9.32,-0.40,9.50,-0.30,9.68,-0.20,9.86,-0.05,9.72,1.60,
9.03,-0.90,9.10,-1.45,9.18,-2.10,9.26,-1.05,9.34,-1.70,9.42,-0.80,9.50,-2.35,9.58,-1.25,9.66,-1.90,9.74,-0.95,
9.82,-2.55,9.90,-1.35,9.97,-2.05,9.22,-2.85,9.55,-2.95,9.86,-2.80,
10.02,1.25,10.05,0.65,10.08,1.50,10.11,0.95,10.14,0.40,10.17,1.70,10.20,1.10,10.23,0.75,10.26,1.40,10.29,0.30,
10.32,1.85,10.35,0.90,10.38,1.25,10.41,0.55,10.44,1.60,10.47,1.05,10.50,2.00,10.53,0.45,10.56,1.35,10.59,0.85,
10.62,1.70,10.65,1.15,10.68,0.60,10.71,1.50,10.74,0.95,10.77,2.05,10.80,0.35,10.83,1.30,10.86,0.80,10.89,1.65,
10.92,1.10,10.95,0.50,10.98,1.45,
10.04,-0.10,10.14,0.05,10.24,-0.30,10.34,0.10,10.44,-0.20,10.54,0.00,10.64,-0.40,10.74,-0.05,10.84,-0.25,10.94,0.15,
10.06,-0.85,10.13,-1.40,10.21,-2.00,10.29,-1.10,10.37,-2.45,10.45,-1.60,10.53,-0.75,10.61,-2.15,10.69,-1.25,10.77,-1.85,
10.85,-2.65,10.93,-1.00,10.97,-1.70,10.30,-2.90,10.65,-2.85,
11.03,1.90,11.08,2.15,11.12,1.40,11.20,0.85,11.32,1.20,11.05,0.30,11.15,-0.20,11.42,0.60,11.25,-0.95,11.10,-1.65,
11.38,-1.50,11.55,-0.30,
];
const CORE_R2C5 = [
9.02,0.15,9.04,-0.12,9.06,0.35,9.08,0.02,9.12,0.25,9.14,0.48,9.16,-0.05,9.18,0.22,9.22,0.45,9.24,0.05,
9.26,0.62,9.28,0.35,9.32,0.15,9.34,0.55,9.36,0.82,9.38,0.28,9.42,0.48,9.44,0.72,9.46,0.18,9.48,0.62,
9.52,0.85,9.54,0.42,9.56,0.68,9.58,1.02,9.62,0.55,9.64,0.78,9.66,0.28,9.68,0.95,9.72,0.62,9.74,1.12,
9.76,0.45,9.78,0.85,9.82,0.98,9.84,0.58,9.86,1.22,9.88,0.78,9.92,0.48,9.94,1.05,9.96,0.88,9.98,1.28,
10.03,0.98,10.06,0.62,10.09,1.25,10.12,0.85,10.16,1.45,10.19,1.08,10.24,0.72,10.28,1.32,10.33,1.12,10.38,0.92,
];
const PTS_R3C1 = [
9.01,0.40,9.03,0.15,9.05,0.60,9.07,0.25,9.09,-0.05,9.11,0.50,9.13,0.80,9.15,0.30,9.17,0.05,9.19,0.65,
9.21,0.45,9.23,0.90,9.25,0.20,9.27,0.70,9.29,0.50,9.31,1.00,9.33,0.35,9.35,0.75,9.37,0.55,9.39,1.10,
9.41,0.60,9.43,0.85,9.45,0.40,9.47,1.15,9.49,0.75,9.51,0.95,9.53,0.55,9.55,1.25,9.57,0.85,9.59,1.05,
9.61,0.65,9.63,1.30,9.65,0.95,9.67,1.15,9.69,0.75,9.71,1.40,9.73,1.05,9.75,1.25,9.77,0.85,9.79,1.50,
9.81,1.10,9.83,1.30,9.85,0.95,9.87,1.45,9.89,1.20,9.91,1.60,9.93,1.00,9.95,1.35,9.97,1.55,9.99,1.25,
9.08,-0.25,9.22,-0.10,9.38,0.05,9.54,0.20,9.70,0.40,9.86,0.55,9.46,1.45,
9.06,-0.70,9.18,-0.55,9.32,-1.05,9.50,-0.60,9.64,-0.85,9.78,-0.40,9.92,-0.75,9.14,-1.55,9.36,-2.00,9.88,-2.40,
9.85,-1.60,9.96,-0.30,
10.02,1.50,10.05,1.15,10.08,1.85,10.11,1.30,10.14,1.65,10.17,2.00,10.20,1.40,10.23,1.75,10.26,1.10,10.29,2.10,
10.32,1.55,10.35,1.85,10.38,1.25,10.41,2.20,10.44,1.60,10.47,1.90,10.50,1.35,10.53,2.05,10.56,1.70,10.59,2.30,
10.62,1.45,10.65,1.85,10.68,2.15,10.71,1.60,10.74,1.95,10.77,2.40,10.80,1.70,10.83,2.10,10.86,1.50,10.89,1.95,
10.92,2.25,10.95,1.80,10.98,2.10,
10.04,0.80,10.14,0.50,10.24,0.95,10.34,0.65,10.44,1.05,10.54,0.80,10.64,1.15,10.74,0.70,10.84,1.10,10.94,0.90,
10.20,0.25,10.50,0.30,10.80,0.45,10.06,-0.25,10.13,-0.60,10.21,-1.10,10.29,-0.40,10.37,-1.45,10.45,-0.80,10.53,-1.90,
10.61,-0.50,10.69,-1.25,10.77,-2.10,10.85,-0.70,10.93,-1.60,10.97,-0.35,10.25,-2.45,10.55,-2.70,10.82,-2.55,10.42,-2.90,
11.03,2.30,11.08,1.95,11.12,1.45,11.22,1.65,11.30,1.10,11.05,0.85,11.18,0.45,11.40,0.75,11.50,1.35,11.10,-0.30,
11.25,-0.95,11.45,-2.80,
];
const CORE_R3C1 = [
9.02,0.48,9.04,0.22,9.06,0.68,9.08,0.35,9.12,0.58,9.14,0.85,9.16,0.12,9.18,0.45,9.22,0.72,9.24,0.32,
9.26,0.95,9.28,0.58,9.32,0.82,9.34,0.42,9.36,1.05,9.38,0.68,9.42,0.92,9.44,0.52,9.46,1.18,9.48,0.78,
9.52,1.02,9.54,0.62,9.56,1.28,9.58,0.92,9.62,1.15,9.64,0.72,9.66,1.38,9.68,1.02,9.72,1.25,9.74,0.85,
9.76,1.48,9.78,1.12,9.82,1.35,9.84,0.95,9.86,1.58,9.88,1.22,9.92,1.45,9.94,1.05,9.96,1.68,9.98,1.32,
10.03,1.55,10.06,1.18,10.09,1.78,10.12,1.42,10.16,1.62,10.19,1.25,10.24,1.85,10.28,1.52,10.33,1.72,10.38,1.38,
];
const PTS_R3C2 = [
9.01,0.75,9.03,0.55,9.05,0.95,9.07,0.70,9.09,0.45,9.11,0.85,9.13,1.05,9.15,0.65,9.17,0.90,9.19,0.55,
9.21,1.00,9.23,0.80,9.25,1.20,9.27,0.70,9.29,0.95,9.31,1.10,9.33,0.85,9.35,1.30,9.37,1.00,9.39,0.80,
9.41,1.20,9.43,1.05,9.45,1.40,9.47,0.90,9.49,1.15,9.51,1.30,9.53,1.00,9.55,1.50,9.57,1.20,9.59,1.05,
9.61,1.40,9.63,1.25,9.65,1.60,9.67,1.10,9.69,1.35,9.71,1.50,9.73,1.20,9.75,1.70,9.77,1.40,9.79,1.25,
9.81,1.60,9.83,1.45,9.85,1.75,9.87,1.30,9.89,1.55,9.91,1.70,9.93,1.40,9.95,1.85,9.97,1.55,9.99,1.65,
9.10,0.20,9.26,0.35,9.42,0.55,9.58,0.75,9.74,0.90,9.90,1.05,9.36,1.60,9.70,1.95,
9.20,-0.30,9.44,-0.10,9.66,0.15,9.88,0.30,9.55,-0.75,9.80,-1.40,9.98,-0.90,9.92,-2.35,
10.02,1.85,10.05,1.45,10.08,2.10,10.11,1.65,10.14,2.35,10.17,1.80,10.20,1.30,10.23,2.20,10.26,1.95,10.29,2.55,
10.32,1.60,10.35,2.05,10.38,2.40,10.41,1.75,10.44,2.25,10.47,2.70,10.50,1.90,10.53,2.40,10.56,2.05,10.59,2.85,
10.62,1.70,10.65,2.30,10.68,2.55,10.71,1.95,10.74,2.45,10.77,2.15,10.80,2.90,10.83,1.85,10.86,2.35,10.89,2.60,
10.92,2.05,10.95,2.50,10.98,1.80,
10.04,1.05,10.14,0.80,10.24,1.25,10.34,0.95,10.44,1.40,10.54,1.10,10.64,1.50,10.74,1.20,10.84,1.55,10.94,1.30,
10.30,0.55,10.60,0.70,10.90,0.85,10.06,0.10,10.15,-0.30,10.24,0.30,10.33,-0.60,10.42,0.00,10.51,-0.95,10.60,0.20,
10.69,-0.40,10.78,-1.30,10.87,0.05,10.96,-0.75,10.20,-1.70,10.48,-2.10,10.72,-1.85,10.92,-2.45,10.40,-2.70,
11.03,2.80,11.08,2.45,11.12,2.10,11.18,2.65,11.25,2.30,11.32,2.85,11.40,2.50,11.50,2.70,11.05,1.60,11.15,1.30,
11.28,1.75,11.10,0.60,11.35,0.90,11.20,-0.20,
];
const CORE_R3C2 = [
9.02,0.78,9.04,0.62,9.06,0.88,9.08,0.68,9.12,0.82,9.14,0.98,9.16,0.72,9.18,0.92,9.22,1.05,9.24,0.82,
9.26,1.12,9.28,0.95,9.32,1.08,9.34,0.88,9.36,1.22,9.38,1.02,9.42,1.15,9.44,0.95,9.46,1.28,9.48,1.08,
9.52,1.22,9.54,1.05,9.56,1.38,9.58,1.15,9.62,1.32,9.64,1.12,9.66,1.45,9.68,1.25,9.72,1.38,9.74,1.18,
9.76,1.52,9.78,1.32,9.82,1.48,9.84,1.28,9.86,1.62,9.88,1.42,9.92,1.55,9.94,1.35,9.96,1.68,9.98,1.48,
10.03,1.62,10.06,1.45,10.09,1.78,10.12,1.58,10.16,1.72,10.19,1.52,10.24,1.85,10.28,1.68,10.33,1.82,10.38,1.62,
];
const PTS_R3C3 = [
9.01,0.40,9.03,0.15,9.05,0.65,9.07,-0.05,9.09,0.30,9.11,0.55,9.13,0.10,9.15,0.80,9.17,0.35,9.19,-0.15,
9.21,0.60,9.23,0.25,9.25,0.90,9.27,0.45,9.29,0.05,9.31,0.70,9.33,1.00,9.35,0.35,9.37,0.60,9.39,0.15,
9.41,0.85,9.43,0.50,9.45,1.10,9.47,0.70,9.49,0.30,9.51,0.95,9.53,0.60,9.55,1.20,9.57,0.40,9.59,0.80,
9.61,1.05,9.63,0.55,9.65,1.30,9.67,0.75,9.69,0.35,9.71,1.00,9.73,0.65,9.75,1.35,9.77,0.90,9.79,0.50,
9.81,1.15,9.83,0.80,9.85,1.45,9.87,0.60,9.89,1.05,9.91,1.25,9.93,0.75,9.95,1.55,9.97,0.95,9.99,1.20,
9.08,-0.40,9.22,-0.30,9.40,-0.20,9.58,-0.10,9.76,0.05,9.94,0.15,9.60,1.60,9.82,1.75,
9.10,-0.85,9.30,-1.05,9.50,-0.80,9.68,-0.65,9.86,-0.90,9.19,-1.60,9.45,-0.60,9.96,-1.40,9.82,-2.40,9.88,-1.95,
10.02,1.30,10.05,0.85,10.08,1.55,10.11,1.05,10.14,0.60,10.17,1.40,10.20,0.95,10.23,1.75,10.26,1.20,10.29,0.70,
10.32,1.50,10.35,1.00,10.38,1.85,10.41,1.30,10.44,0.80,10.47,1.60,10.50,1.10,10.53,2.05,10.56,1.40,10.59,0.90,
10.62,1.70,10.65,1.25,10.68,2.15,10.71,1.05,10.74,1.55,10.77,0.75,10.80,1.90,10.83,1.35,10.86,1.00,10.89,1.75,
10.92,2.25,10.95,1.20,10.98,1.60,
10.04,0.25,10.12,0.45,10.20,0.10,10.28,0.35,10.36,-0.05,10.44,0.50,10.52,0.15,10.60,0.40,10.68,0.00,10.76,0.55,
10.84,0.20,10.92,0.45,10.97,0.05,10.30,-0.30,10.70,-0.35,10.06,-0.60,10.14,-1.05,10.23,-1.60,10.31,-0.80,10.40,-2.05,
10.48,-1.30,10.56,-0.70,10.65,-1.85,10.73,-2.35,10.82,-1.10,10.90,-1.70,10.97,-0.90,10.20,-2.75,10.52,-2.90,10.86,-2.65,
10.43,-0.40,
11.03,2.00,11.08,1.70,11.15,2.10,11.22,1.45,11.32,1.85,11.05,0.95,11.15,0.55,11.28,0.80,11.40,0.40,11.50,0.95,
11.10,-0.25,11.05,-1.20,11.20,-0.60,
];
const CORE_R3C3 = [
9.02,0.48,9.04,0.22,9.06,0.62,9.08,0.35,9.12,0.55,9.14,0.78,9.16,0.12,9.18,0.45,9.22,0.68,9.24,0.28,
9.26,0.85,9.28,0.52,9.32,0.75,9.34,0.38,9.36,0.95,9.38,0.62,9.42,0.82,9.44,0.45,9.46,1.05,9.48,0.72,
9.52,0.92,9.54,0.55,9.56,1.15,9.58,0.82,9.62,1.02,9.64,0.65,9.66,1.25,9.68,0.88,9.72,1.08,9.74,0.72,
9.76,1.32,9.78,0.95,9.82,1.15,9.84,0.78,9.86,1.38,9.88,1.02,9.92,1.22,9.94,0.85,9.96,1.45,9.98,1.08,
10.03,1.28,10.06,0.92,10.09,1.52,10.12,1.15,10.16,1.35,10.19,0.98,10.24,1.58,10.28,1.22,10.33,1.42,10.38,1.08,
];
const PTS_R3C4 = [
9.01,0.35,9.03,0.60,9.05,0.10,9.07,0.45,9.09,0.20,9.11,0.70,9.13,-0.05,9.15,0.50,9.17,0.25,9.19,0.80,
9.21,0.40,9.23,0.05,9.25,0.65,9.27,0.30,9.29,0.90,9.31,0.50,9.33,0.15,9.35,0.75,9.37,0.40,9.39,1.00,
9.41,0.60,9.43,0.25,9.45,0.85,9.47,0.50,9.49,1.10,9.51,0.70,9.53,0.35,9.55,0.95,9.57,0.60,9.59,1.20,
9.61,0.80,9.63,0.45,9.65,1.05,9.67,0.70,9.69,1.30,9.71,0.90,9.73,0.55,9.75,1.15,9.77,0.80,9.79,1.35,
9.81,1.00,9.83,0.65,9.85,1.20,9.87,0.85,9.89,1.45,9.91,1.05,9.93,0.70,9.95,1.30,9.97,0.95,9.99,1.50,
9.08,-0.35,9.24,-0.25,9.42,-0.15,9.60,0.00,9.78,0.10,9.94,0.20,
9.12,-0.80,9.33,-0.65,9.55,-0.90,9.72,-0.55,9.90,-0.75,9.26,-1.40,9.66,-1.20,9.95,-1.60,9.84,-2.25,
10.02,1.20,10.05,0.75,10.08,1.45,10.11,1.00,10.14,0.50,10.17,1.35,10.20,0.90,10.23,1.65,10.26,1.10,10.29,0.60,
10.32,1.45,10.35,0.95,10.38,1.80,10.41,1.25,10.44,0.70,10.47,1.55,10.50,1.05,10.53,1.95,10.56,1.35,10.59,0.80,
10.62,1.65,10.65,1.15,10.68,2.05,10.71,0.95,10.74,1.50,10.77,0.70,10.80,1.85,10.83,1.25,10.86,0.90,10.89,1.70,
10.92,2.15,10.95,1.10,10.98,1.55,
10.04,0.20,10.12,0.40,10.20,0.05,10.28,0.30,10.36,-0.10,10.44,0.45,10.52,0.10,10.60,0.35,10.68,-0.05,10.76,0.50,
10.84,0.15,10.92,0.40,10.97,0.00,10.32,-0.35,10.72,-0.40,10.06,-0.65,10.14,-1.10,10.23,-1.70,10.31,-0.85,10.40,-2.10,
10.48,-1.35,10.56,-0.75,10.65,-1.95,10.73,-2.45,10.82,-1.15,10.90,-1.75,10.97,-0.95,10.20,-2.80,10.52,-2.95,10.86,-2.70,
10.45,-0.45,
11.03,1.90,11.08,1.55,11.15,2.00,11.22,1.35,11.32,1.70,11.05,0.85,11.15,0.45,11.28,0.75,11.40,0.30,11.10,-0.35,
11.05,-1.25,11.25,-0.70,11.48,1.05,
];
const CORE_R3C4 = [
9.02,0.45,9.04,0.18,9.06,0.62,9.08,0.32,9.12,0.52,9.14,0.75,9.16,0.10,9.18,0.42,9.22,0.65,9.24,0.25,
9.26,0.82,9.28,0.50,9.32,0.72,9.34,0.35,9.36,0.92,9.38,0.58,9.42,0.78,9.44,0.42,9.46,1.02,9.48,0.68,
9.52,0.88,9.54,0.52,9.56,1.12,9.58,0.78,9.62,0.98,9.64,0.62,9.66,1.22,9.68,0.85,9.72,1.05,9.74,0.68,
9.76,1.28,9.78,0.92,9.82,1.12,9.84,0.75,9.86,1.35,9.88,0.98,9.92,1.18,9.94,0.82,9.96,1.42,9.98,1.05,
10.03,1.25,10.06,0.88,10.09,1.48,10.12,1.12,10.16,1.32,10.19,0.95,10.24,1.55,10.28,1.18,10.33,1.38,10.38,1.05,
];
const PTS_R3C5 = [
9.01,0.40,9.03,0.15,9.05,0.65,9.07,0.30,9.09,0.00,9.11,0.55,9.13,0.80,9.15,0.25,9.17,0.50,9.19,0.05,
9.21,0.70,9.23,0.45,9.25,0.95,9.27,0.20,9.29,0.60,9.31,0.85,9.33,0.35,9.35,1.05,9.37,0.55,9.39,0.75,
9.41,0.30,9.43,1.00,9.45,0.65,9.47,1.20,9.49,0.45,9.51,0.85,9.53,1.10,9.55,0.60,9.57,1.30,9.59,0.80,
9.61,1.00,9.63,0.50,9.65,1.20,9.67,0.90,9.69,1.40,9.71,0.70,9.73,1.10,9.75,0.85,9.77,1.50,9.79,1.00,
9.81,1.25,9.83,0.75,9.85,1.40,9.87,1.05,9.89,1.60,9.91,0.90,9.93,1.30,9.95,1.15,9.97,1.70,9.99,1.05,
9.08,-0.30,9.24,-0.20,9.42,-0.05,9.60,0.10,9.78,0.20,9.94,0.35,
9.14,-0.75,9.35,-0.60,9.56,-0.85,9.74,-0.50,9.92,-0.70,9.28,-1.30,9.70,-1.15,9.98,-1.85,9.86,-2.60,
10.02,1.40,10.05,0.90,10.08,1.65,10.11,1.15,10.14,0.65,10.17,1.50,10.20,1.05,10.23,1.85,10.26,1.30,10.29,0.75,
10.32,1.60,10.35,1.10,10.38,1.95,10.41,1.40,10.44,0.85,10.47,1.70,10.50,1.20,10.53,2.10,10.56,1.50,10.59,0.95,
10.62,1.80,10.65,1.35,10.68,2.25,10.71,1.15,10.74,1.65,10.77,0.90,10.80,2.00,10.83,1.45,10.86,1.10,10.89,1.85,
10.92,2.35,10.95,1.30,10.98,1.70,
10.04,0.30,10.12,0.50,10.20,0.15,10.28,0.40,10.36,0.00,10.44,0.55,10.52,0.20,10.60,0.45,10.68,0.05,10.76,0.60,
10.84,0.25,10.92,0.50,10.97,0.10,10.32,-0.25,10.72,-0.30,10.06,-0.55,10.14,-1.00,10.23,-1.55,10.31,-0.75,10.40,-2.00,
10.48,-1.25,10.56,-0.65,10.65,-1.80,10.73,-2.30,10.82,-1.05,10.90,-1.65,10.97,-0.85,10.20,-2.70,10.52,-2.85,10.86,-2.55,
10.45,-0.40,
11.03,2.10,11.08,1.75,11.15,2.30,11.22,1.50,11.32,1.90,11.05,1.00,11.15,0.60,11.28,0.85,11.40,0.45,11.10,-0.20,
11.05,-1.10,11.25,-0.55,11.48,1.20,
];
const CORE_R3C5 = [
9.02,0.45,9.04,0.20,9.06,0.65,9.08,0.35,9.12,0.55,9.14,0.78,9.16,0.12,9.18,0.45,9.22,0.68,9.24,0.28,
9.26,0.88,9.28,0.52,9.32,0.75,9.34,0.38,9.36,0.98,9.38,0.62,9.42,0.82,9.44,0.45,9.46,1.08,9.48,0.72,
9.52,0.92,9.54,0.55,9.56,1.18,9.58,0.82,9.62,1.02,9.64,0.65,9.66,1.28,9.68,0.88,9.72,1.08,9.74,0.72,
9.76,1.35,9.78,0.95,9.82,1.15,9.84,0.78,9.86,1.42,9.88,1.02,9.92,1.22,9.94,0.85,9.96,1.48,9.98,1.08,
10.03,1.32,10.06,0.95,10.09,1.55,10.12,1.18,10.16,1.38,10.19,1.02,10.24,1.62,10.28,1.25,10.33,1.45,10.38,1.12,
];

const POINTS = [
  [[...PTS_R1C1, ...CORE_R1C1], [...PTS_R1C2, ...CORE_R1C2], [...PTS_R1C3, ...CORE_R1C3], [...PTS_R1C4, ...CORE_R1C4], [...PTS_R1C5, ...CORE_R1C5]],
  [[...PTS_R2C1, ...CORE_R2C1], [...PTS_R2C2, ...CORE_R2C2], [...PTS_R2C3, ...CORE_R2C3], [...PTS_R2C4, ...CORE_R2C4], [...PTS_R2C5, ...CORE_R2C5]],
  [[...PTS_R3C1, ...CORE_R3C1], [...PTS_R3C2, ...CORE_R3C2], [...PTS_R3C3, ...CORE_R3C3], [...PTS_R3C4, ...CORE_R3C4], [...PTS_R3C5, ...CORE_R3C5]],
];
const CURVES = [CURVE_ROW1, CURVE_ROW2, CURVE_ROW3];

// ---------------- LAYOUT ----------------
const W = 1385;
const H = 1230;
const LEFT0 = 115;
const COL_STEP = 253.25;
const PW = 220;
const TOP0 = 221;
const ROW_STEP = 316;
const PH = 290;

const HEAD_FONT = "Lato, 'Open Sans', sans-serif";
const TICK_FONT = "'DejaVu Sans', sans-serif";

function toPairs(flat: number[]): [number, number][] {
  const out: [number, number][] = [];
  for (let i = 0; i + 1 < flat.length; i += 2) out.push([flat[i], flat[i + 1]]);
  return out;
}

function HeaderLine({ text, x, y }: { text: string; x: number; y: number }) {
  const parts = text.split("|");
  return (
    <text x={x} y={y} textAnchor="middle" dominantBaseline="central" fontFamily={HEAD_FONT} fontSize={18.5} fill="#111">
      {parts[0]}
      {parts[1] ? (
        <tspan fontSize={12.5} dy={4}>{parts[1]}</tspan>
      ) : null}
    </text>
  );
}

function Panel({ r, c }: { r: number; c: number }) {
  const x = d3.scaleLinear().domain([9, 12]).range([0, PW]);
  const y = d3.scaleLinear().domain([-3, 3]).range([PH, 0]);
  const cv = CURVES[r][c];
  const curvePts: [number, number][] = CURVE_X.map((m, i) => [m, cv[i]]);
  const line = d3
    .line<[number, number]>()
    .x((d) => x(d[0]))
    .y((d) => y(d[1]))
    .curve(d3.curveMonotoneX);
  const bandPts = curvePts.filter((d) => d[0] >= BAND_X[0] && d[0] <= BAND_X[1]);
  const area = (lo: (d: [number, number]) => number, hi: (d: [number, number]) => number) =>
    d3
      .area<[number, number]>()
      .x((d) => x(d[0]))
      .y0((d) => y(lo(d)))
      .y1((d) => y(hi(d)))
      .curve(d3.curveMonotoneX)(bandPts) || "";
  const edge = (off: number) =>
    d3
      .line<[number, number]>()
      .x((d) => x(d[0]))
      .y((d) => y(d[1] + off))
      .curve(d3.curveMonotoneX)(bandPts) || "";
  const pts = toPairs(POINTS[r][c]);
  const tx = LEFT0 + c * COL_STEP;
  const ty = TOP0 + r * ROW_STEP;
  const clipId = `clip-${r}-${c}`;
  return (
    <g transform={`translate(${tx},${ty})`}>
      <defs>
        <clipPath id={clipId}>
          <rect x={0} y={0} width={PW} height={PH} />
        </clipPath>
      </defs>
      <g clipPath={`url(#${clipId})`}>
        <path d={area(() => 3, (d) => d[1] + BAND_OFFSETS[0])} fill="rgb(0,0,255)" fillOpacity={0.2} />
        <path d={area((d) => d[1] + BAND_OFFSETS[1], (d) => d[1] + BAND_OFFSETS[0])} fill="rgb(0,128,0)" fillOpacity={0.2} />
        <path d={area(() => -3, (d) => d[1] + BAND_OFFSETS[1])} fill="rgb(255,0,0)" fillOpacity={0.2} />
        <path d={edge(BAND_OFFSETS[0])} fill="none" stroke="rgb(90,110,200)" strokeOpacity={0.6} strokeWidth={1} />
        <path d={edge(BAND_OFFSETS[1])} fill="none" stroke="rgb(160,130,110)" strokeOpacity={0.6} strokeWidth={1} />
        {pts.map((p, i) => (
          <circle key={i} cx={x(p[0])} cy={y(p[1])} r={1.8} fill="#747474" fillOpacity={0.72} />
        ))}
        <path d={line(curvePts) || ""} fill="none" stroke="#000" strokeWidth={2.4} />
      </g>
      <rect x={0} y={0} width={PW} height={PH} fill="none" stroke="#000" strokeWidth={1} />
      {Y_TICKS.map((t) => (
        <g key={"y" + t}>
          <line x1={-5} x2={0} y1={y(t)} y2={y(t)} stroke="#000" strokeWidth={1} />
          {c === 0 ? (
            <text x={-7} y={y(t)} textAnchor="end" dominantBaseline="central" fontFamily={TICK_FONT} fontSize={21} fill="#000">
              {d3.format("d")(t)}
            </text>
          ) : null}
        </g>
      ))}
      {X_TICKS.map((t) => (
        <g key={"x" + t}>
          <line x1={x(t)} x2={x(t)} y1={PH} y2={PH + 5} stroke="#000" strokeWidth={1} />
          {r === 2 ? (
            <text x={x(t)} y={PH + 20} textAnchor="middle" dominantBaseline="central" fontFamily={TICK_FONT} fontSize={21} fill="#000">
              {t}
            </text>
          ) : null}
        </g>
      ))}
      {c === 0 ? (
        <text x={9} y={29} fontFamily={HEAD_FONT} fontWeight={700} fontSize={21} dominantBaseline="central" fill="#000">
          {Z_LABELS[r]}
        </text>
      ) : null}
      {r === 0 ? (
        <text x={PW / 2} y={-22} textAnchor="middle" dominantBaseline="central" fontFamily={HEAD_FONT} fontSize={21} fill="#000">
          {PANEL_IDS[c]}
        </text>
      ) : null}
    </g>
  );
}

export default function App() {
  const rows = [0, 1, 2];
  const cols = [0, 1, 2, 3, 4];
  return (
    <svg width={W} height={H} style={{ position: "absolute", left: 0, top: 0, background: "#fff" }}>
      <rect x={0} y={0} width={W} height={H} fill="#fff" />
      {HEADERS.map((lines, c) =>
        lines.map((ln, i) => (
          <HeaderLine key={c + "-" + i} text={ln} x={LEFT0 + c * COL_STEP + PW / 2} y={12 + i * 29} />
        ))
      )}
      {rows.map((r) => cols.map((c) => <Panel key={r + "-" + c} r={r} c={c} />))}
      <text
        transform={`translate(40,${TOP0 + ROW_STEP + PH / 2}) rotate(-90)`}
        textAnchor="middle"
        dominantBaseline="central"
        fontFamily={HEAD_FONT}
        fontSize={49}
        fill="#000"
      >
        log SFR (M<tspan fontFamily={TICK_FONT} fontSize={44}>⊙</tspan> yr<tspan fontSize={32} dy={-19}>−1</tspan>
        <tspan dy={19}>)</tspan>
      </text>
      <text
        x={LEFT0 + 2 * COL_STEP + PW / 2}
        y={1202}
        textAnchor="middle"
        dominantBaseline="central"
        fontFamily={HEAD_FONT}
        fontSize={49}
        fill="#000"
      >
        log{"\u00A0\u00A0"}stellar mass (M<tspan fontFamily={TICK_FONT} fontSize={44}>⊙</tspan>)
      </text>
    </svg>
  );
}
